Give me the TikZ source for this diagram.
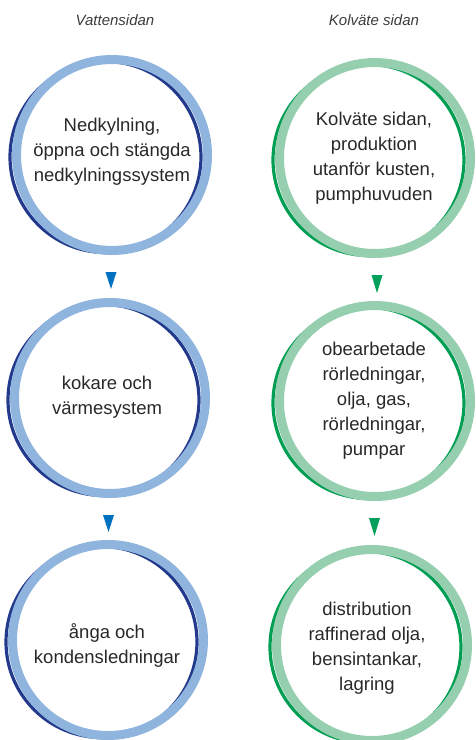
\documentclass[tikz,border=0pt]{standalone}
\usepackage{fontspec}
\setmainfont{Liberation Sans}
\usetikzlibrary{calc}
\definecolor{lblue}{RGB}{143,180,222}
\definecolor{dblue}{RGB}{35,58,140}
\definecolor{tblue}{RGB}{0,112,192}
\definecolor{lgreen}{RGB}{150,206,176}
\definecolor{dgreen}{RGB}{0,158,82}
\definecolor{tgreen}{RGB}{0,160,90}
\definecolor{txt}{RGB}{40,40,40}
\definecolor{hdrc}{RGB}{60,60,60}
\begin{document}
\begin{tikzpicture}[x=1pt,y=-1pt,
  ring/.style={circle,draw=#1,line width=9pt,minimum size=191pt,inner sep=0pt},
  shadowring/.style={draw=#1,line width=3.2pt},
  lbl/.style={align=center,font=\fontsize{18.5}{25}\selectfont,text=txt,inner sep=0pt},
  hdr/.style={font=\fontsize{15}{18}\selectfont\itshape,text=hdrc,inner sep=0pt},
  tri/.style={fill=#1}]
\useasboundingbox (0,0) rectangle (475,740);
\clip (0,0) rectangle (475,740);
% centres
\coordinate (cw1) at (112,155);
\coordinate (cw2) at (110,398);
\coordinate (cw3) at (108,640);
\coordinate (ck1) at (375,158);
\coordinate (ck2) at (375,401);
\coordinate (ck3) at (372,645);
% headers
\node[hdr] (hw) at (115,20) {Vattensidan};
\node[hdr] (hk) at (374,20) {Kolväte sidan};
% dark offset rings
\foreach \c in {cw1,cw2,cw3}
  \draw[shadowring=dblue] ($(\c)+(-6.5,2)$) circle[radius=95.5pt];
\foreach \c in {ck1,ck2,ck3}
  \draw[shadowring=dgreen] ($(\c)+(-6.5,2)$) circle[radius=95.5pt];
% light rings
\node[ring=lblue] (w1) at (cw1) {};
\node[ring=lblue] (w2) at (cw2) {};
\node[ring=lblue] (w3) at (cw3) {};
\node[ring=lgreen] (k1) at (ck1) {};
\node[ring=lgreen] (k2) at (ck2) {};
\node[ring=lgreen] (k3) at (ck3) {};
% texts
\node[lbl] (tw1) at (112,152) {Nedkylning,\\öppna och stängda\\nedkylningssystem};
\node[lbl] (tw2) at (107,397) {kokare och\\värmesystem};
\node[lbl] (tw3) at (107,645) {ånga och\\kondensledningar};
\node[lbl] (tk1) at (374,158) {Kolväte sidan,\\produktion\\utanför kusten,\\pumphuvuden};
\node[lbl] (tk2) at (374,401) {obearbetade\\rörledningar,\\olja, gas,\\rörledningar,\\pumpar};
\node[lbl] (tk3) at (367,648) {distribution\\raffinerad olja,\\bensintankar,\\lagring};
% triangles
\coordinate (a1) at (111,272);
\coordinate (a2) at (108.5,515);
\coordinate (b1) at (377,275);
\coordinate (b2) at (374.5,518);
\foreach \t in {a1,a2}
  \fill[tri=tblue] ($(\t)+(-5.5,0)$) -- ++(11,0) -- ++(-5.5,17) -- cycle;
\foreach \t in {b1,b2}
  \fill[tri=tgreen] ($(\t)+(-5.5,0)$) -- ++(11,0) -- ++(-5.5,18) -- cycle;
\end{tikzpicture}
\end{document}
